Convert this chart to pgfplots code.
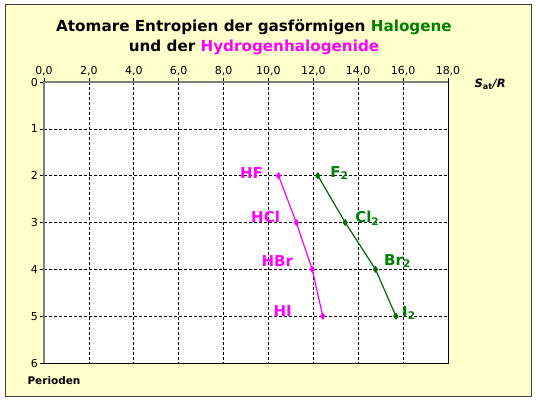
\documentclass[border=0pt]{standalone}
\usepackage{pgfplots}
\pgfplotsset{compat=1.18}
\usepackage{fontspec}
\setmainfont{DejaVu Sans}
\definecolor{bgyellow}{HTML}{FFFFCC}
\definecolor{halgreen}{HTML}{008000}
\definecolor{linegreen}{HTML}{006A00}
\definecolor{hmag}{HTML}{FF00FF}
\definecolor{axgray}{HTML}{7F7F7F}

% Atomare Entropien S_at/R (Periode 2..5)
\pgfplotstableread{
per  s
2    12.20
3    13.42
4    14.77
5    15.68
}\halogene
\pgfplotstableread{
per  s
2    10.45
3    11.24
4    11.95
5    12.42
}\hydrogen

\begin{document}
\begin{tikzpicture}[x=1pt,y=1pt]
\fill[white] (0,0) rectangle (536,400);
\draw[fill=bgyellow,draw=black!75,line width=1pt] (5,4) rectangle (531,395);
\node[font=\bfseries\fontsize{15.2}{20}\selectfont,align=center] at (254,363)
  {Atomare Entropien der gasförmigen \textcolor{halgreen}{Halogene}\\
   und der \textcolor{hmag}{Hydrogenhalogenide}};
\node[font=\bfseries\fontsize{10.5}{12}\selectfont,anchor=west] at (24,19) {Perioden};
\node[font=\bfseries\fontsize{11.5}{13}\selectfont,anchor=west] at (471,316)
  {\textit{S}\textsubscript{at}\textit{/R}};
\begin{axis}[
  at={(44pt,37pt)}, anchor=south west,
  scale only axis, width=404pt, height=281pt,
  xmin=0, xmax=18, ymin=0, ymax=6,
  y dir=reverse,
  xtick={0,2,...,18}, ytick={0,1,...,6},
  xtick pos=upper, xticklabel pos=upper, ytick pos=left,
  tick align=outside, major tick length=4pt,
  tick style={black, line width=0.6pt},
  xticklabel style={/pgf/number format/.cd, fixed, fixed zerofill, precision=1, use comma},
  /pgf/number format/assume math mode=true,
  ticklabel style={font=\fontsize{11}{13}\selectfont, inner sep=2pt},
  grid=major,
  major grid style={black, line width=0.6pt, dash pattern=on 3pt off 2pt},
  axis background/.style={fill=white},
  axis line style={draw=none},
  clip=false,
]
\addplot[hmag, line width=1.2pt, mark=diamond*, mark size=2.6pt] table[x=s, y=per] {\hydrogen};
\addplot[linegreen, line width=1.2pt, mark=diamond*, mark size=2.6pt] table[x=s, y=per] {\halogene};
\draw[black, line width=1pt] (axis cs:0,6) -- (axis cs:18,6) -- (axis cs:18,0);
\draw[axgray, line width=2pt] (axis cs:0,6) -- (axis cs:0,0) -- (axis cs:18,0);
% Beschriftungen
\begin{scope}[font=\bfseries\fontsize{15}{17}\selectfont]
\node[hmag, anchor=base east, inner sep=0pt] at (axis cs:9.76,2.07) {HF};
\node[hmag, anchor=base east, inner sep=0pt] at (axis cs:10.52,3.01) {HCl};
\node[hmag, anchor=base east, inner sep=0pt] at (axis cs:11.10,3.95) {HBr};
\node[hmag, anchor=base east, inner sep=0pt] at (axis cs:11.05,5.00) {HI};
\node[halgreen, anchor=base west, inner sep=0pt] at (axis cs:12.75,2.03) {F\textsubscript{2}};
\node[halgreen, anchor=base west, inner sep=0pt] at (axis cs:13.86,3.01) {Cl\textsubscript{2}};
\node[halgreen, anchor=base west, inner sep=0pt] at (axis cs:15.15,3.91) {Br\textsubscript{2}};
\node[halgreen, anchor=base west, inner sep=0pt] at (axis cs:15.95,5.02) {I\textsubscript{2}};
\end{scope}
\end{axis}
\end{tikzpicture}
\end{document}
